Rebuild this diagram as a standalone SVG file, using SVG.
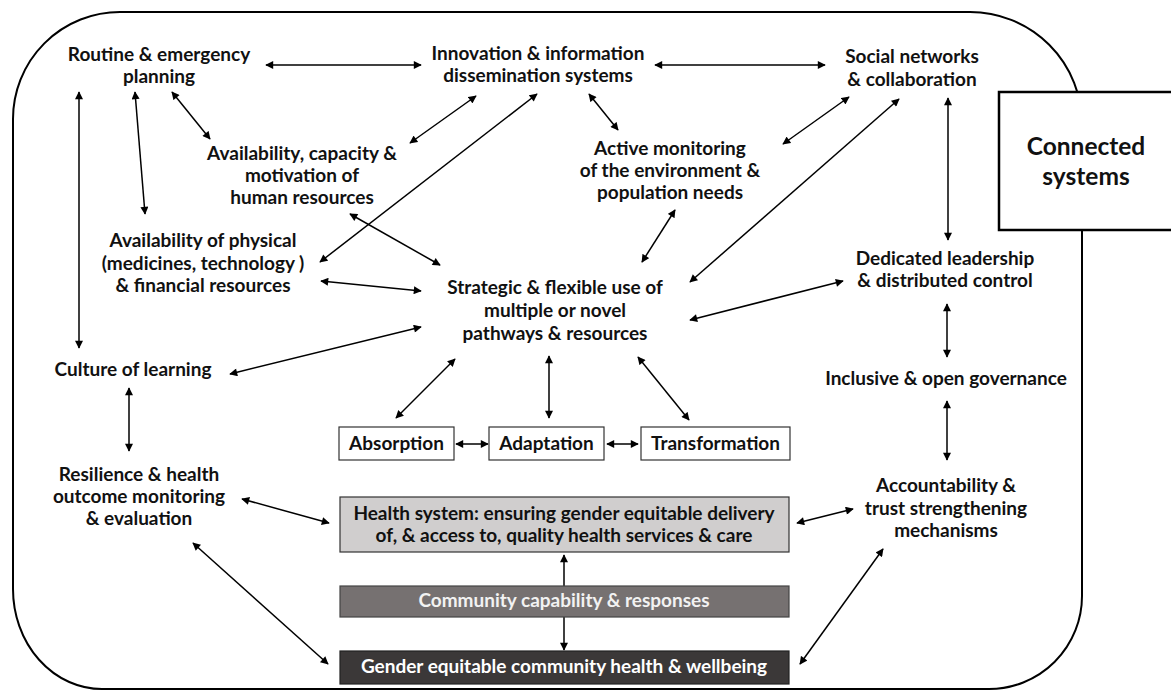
<svg xmlns="http://www.w3.org/2000/svg" width="1171" height="690" viewBox="0 0 1171 690">
<defs>
<marker id="ah" viewBox="0 0 10 10" refX="9" refY="5" markerWidth="9" markerHeight="8" markerUnits="userSpaceOnUse" orient="auto-start-reverse">
<path d="M0,0 L10,5 L0,10 Z" fill="#000"/>
</marker>
</defs>
<style>
text{font-family:Lato,"Liberation Sans",sans-serif;font-weight:700;font-size:19px;fill:#111;text-anchor:middle}
.c line{stroke:#000;stroke-width:1.5;marker-start:url(#ah);marker-end:url(#ah)}
.box{fill:#fff;stroke:#333;stroke-width:1.2}
.big{font-size:24.5px}
.lt{fill:#f2f2f2}
.wt{fill:#fff}
</style>
<rect width="1171" height="690" fill="#fff"/>
<path id="outer" d="M120,12 H970 A112,112 0 0 1 1082,124 V596 A93,93 0 0 1 989,689 H102 A89,100 0 0 1 13,589 V119 A107,107 0 0 1 120,12 Z" fill="none" stroke="#000" stroke-width="2"/>
<g id="connected"><rect x="999" y="92" width="180" height="138" fill="#fff" stroke="#000" stroke-width="2.5"/><text class="big" x="1086" y="155">Connected</text><text class="big" x="1086" y="185">systems</text></g>
<g class="c" id="connectors">
<line x1="266" y1="65" x2="421" y2="65"/>
<line x1="655" y1="65" x2="825" y2="65"/>
<line x1="172" y1="92" x2="210" y2="139"/>
<line x1="135" y1="92" x2="145" y2="214"/>
<line x1="79" y1="92" x2="79" y2="348"/>
<line x1="476" y1="96" x2="410" y2="143"/>
<line x1="537" y1="94" x2="320" y2="262"/>
<line x1="589" y1="94" x2="618" y2="130"/>
<line x1="849" y1="97" x2="783" y2="144"/>
<line x1="899" y1="99" x2="690" y2="282"/>
<line x1="948" y1="98" x2="948" y2="240"/>
<line x1="675" y1="210" x2="642" y2="262"/>
<line x1="350" y1="214" x2="440" y2="265"/>
<line x1="321" y1="281" x2="421" y2="291"/>
<line x1="230" y1="374" x2="421" y2="327"/>
<line x1="690" y1="320" x2="843" y2="281"/>
<line x1="947" y1="304" x2="947" y2="357"/>
<line x1="947" y1="401" x2="947" y2="460"/>
<line x1="129" y1="388" x2="129" y2="451"/>
<line x1="455" y1="359" x2="396" y2="418"/>
<line x1="549" y1="356" x2="549" y2="418"/>
<line x1="638" y1="357" x2="689" y2="420"/>
<line x1="456" y1="444" x2="488" y2="444"/>
<line x1="607" y1="444" x2="638" y2="444"/>
<line x1="242" y1="499" x2="329" y2="523"/>
<line x1="193" y1="543" x2="328" y2="664"/>
<line x1="564" y1="555" x2="564" y2="650"/>
<line x1="797" y1="523" x2="853" y2="509"/>
<line x1="800" y1="664" x2="883" y2="549"/>
</g>
<g id="routine"><text x="159" y="61">Routine &amp; emergency</text><text x="159" y="83">planning</text></g>
<g id="innovation"><text x="538" y="60">Innovation &amp; information</text><text x="538" y="82">dissemination systems</text></g>
<g id="social"><text x="912" y="63">Social networks</text><text x="912" y="86">&amp; collaboration</text></g>
<g id="human"><text x="302" y="160">Availability, capacity &amp;</text><text x="302" y="182">motivation of</text><text x="302" y="204">human resources</text></g>
<g id="active"><text x="670" y="155">Active monitoring</text><text x="670" y="177">of the environment &amp;</text><text x="670" y="199">population needs</text></g>
<g id="physical"><text x="203" y="247">Availability of physical</text><text x="203" y="270">(medicines, technology )</text><text x="203" y="292">&amp; financial resources</text></g>
<g id="strategic"><text x="555" y="294">Strategic &amp; flexible use of</text><text x="555" y="317">multiple or novel</text><text x="555" y="340">pathways &amp; resources</text></g>
<g id="leadership"><text x="945" y="265">Dedicated leadership</text><text x="945" y="287">&amp; distributed control</text></g>
<g id="culture"><text x="133" y="376">Culture of learning</text></g>
<g id="governance"><text x="946" y="385">Inclusive &amp; open governance</text></g>
<g id="absorption"><rect class="box" x="339" y="427" width="115" height="33"/><text x="396.5" y="450">Absorption</text></g>
<g id="adaptation"><rect class="box" x="489" y="427" width="115" height="33"/><text x="546.5" y="450">Adaptation</text></g>
<g id="transformation"><rect class="box" x="641" y="427" width="149" height="33"/><text x="715.5" y="450">Transformation</text></g>
<g id="resilience"><text x="139" y="481">Resilience &amp; health</text><text x="139" y="503">outcome monitoring</text><text x="139" y="525">&amp; evaluation</text></g>
<g id="health"><rect x="340" y="497" width="449" height="55" fill="#d0cece" stroke="#333" stroke-width="1.2"/><text x="564" y="520">Health system: ensuring gender equitable delivery</text><text x="564" y="542">of, &amp; access to, quality health services &amp; care</text></g>
<g id="community"><rect x="340" y="586" width="449" height="31" fill="#767171" stroke="#444" stroke-width="1.2"/><text class="lt" x="564" y="607">Community capability &amp; responses</text></g>
<g id="gender"><rect x="340" y="651" width="449" height="33" fill="#3b3838" stroke="#222" stroke-width="1.2"/><text class="wt" x="564" y="673">Gender equitable community health &amp; wellbeing</text></g>
<g id="accountability"><text x="946" y="492">Accountability &amp;</text><text x="946" y="515">trust strengthening</text><text x="946" y="537">mechanisms</text></g>
</svg>
